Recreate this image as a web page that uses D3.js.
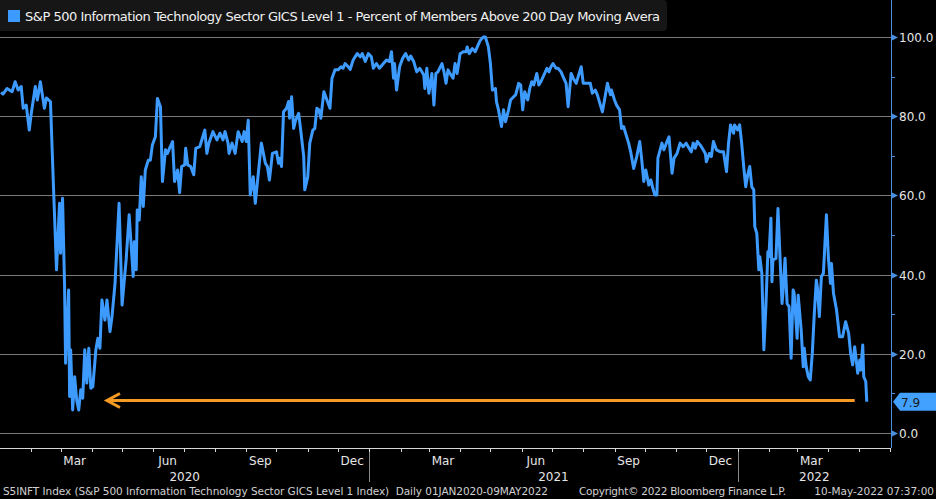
<!DOCTYPE html>
<html><head><meta charset="utf-8">
<script src="https://cdn.jsdelivr.net/npm/d3@7"></script>
<style>html,body{margin:0;padding:0;background:#000;overflow:hidden}svg{display:block}</style>
</head><body>
<svg id="c" width="936" height="499"></svg>
<script>
const titleText = "S&P 500 Information Technology Sector GICS Level 1 - Percent of Members Above 200 Day Moving Avera";
const footerLeft = "S5INFT Index (S&P 500 Information Technology Sector GICS Level 1 Index)  Daily 01JAN2020-09MAY2022";
const footerMid = "Copyright\u00A9 2022 Bloomberg Finance L.P.";
const footerRight = "10-May-2022 07:37:00";
const yTicks = [0, 20, 40, 60, 80, 100];
const yMinorTicks = [10, 30, 50, 70, 90];
const quarterLabels = ["Mar", "Jun", "Sep", "Dec"];
const lastValue = 7.9;
const arrowLevel = 8.2;
const arrowDates = ["2020-04-15", "2022-04-27"];

const dates = [
"2020-01-02","2020-01-04","2020-01-08","2020-01-13","2020-01-16","2020-01-19","2020-01-22","2020-01-24","2020-01-27","2020-01-30",
"2020-02-01","2020-02-05","2020-02-07","2020-02-10","2020-02-14","2020-02-16","2020-02-20","2020-02-23","2020-02-26","2020-02-29",
"2020-03-01","2020-03-03","2020-03-05","2020-03-06","2020-03-09","2020-03-10","2020-03-11","2020-03-13","2020-03-15","2020-03-17",
"2020-03-19","2020-03-21","2020-03-23","2020-03-25","2020-03-27","2020-03-29","2020-03-31","2020-04-02","2020-04-05","2020-04-07",
"2020-04-09","2020-04-11","2020-04-14","2020-04-16","2020-04-19","2020-04-21","2020-04-24","2020-04-28","2020-05-01","2020-05-05",
"2020-05-08","2020-05-12","2020-05-13","2020-05-15","2020-05-16","2020-05-18","2020-05-20","2020-05-22","2020-05-24","2020-05-27",
"2020-05-29","2020-05-31","2020-06-03","2020-06-05","2020-06-08","2020-06-10","2020-06-13","2020-06-15","2020-06-17","2020-06-20",
"2020-06-22","2020-06-25","2020-06-27","2020-06-29","2020-07-02","2020-07-03","2020-07-05","2020-07-08","2020-07-11","2020-07-13",
"2020-07-17","2020-07-19","2020-07-22","2020-07-24","2020-07-26","2020-07-30","2020-08-03","2020-08-06","2020-08-09","2020-08-11",
"2020-08-14","2020-08-15","2020-08-18","2020-08-21","2020-08-24","2020-08-28","2020-08-30","2020-09-01","2020-09-03","2020-09-05",
"2020-09-08","2020-09-10","2020-09-13","2020-09-16","2020-09-20","2020-09-22","2020-09-24","2020-09-27","2020-10-01","2020-10-03",
"2020-10-04","2020-10-06","2020-10-08","2020-10-11","2020-10-13","2020-10-14","2020-10-16","2020-10-18","2020-10-20","2020-10-23",
"2020-10-25","2020-10-28","2020-10-29","2020-11-01","2020-11-03","2020-11-06","2020-11-08","2020-11-10","2020-11-12","2020-11-14",
"2020-11-17","2020-11-20","2020-11-23","2020-11-25","2020-11-28","2020-12-01","2020-12-04","2020-12-06","2020-12-08","2020-12-11",
"2020-12-13","2020-12-16","2020-12-20","2020-12-23","2020-12-25","2020-12-28","2020-12-31","2021-01-03","2021-01-05","2021-01-08",
"2021-01-11","2021-01-15","2021-01-18","2021-01-21","2021-01-23","2021-01-25","2021-01-26","2021-01-28","2021-01-31","2021-02-03",
"2021-02-06","2021-02-09","2021-02-11","2021-02-14","2021-02-17","2021-02-20","2021-02-24","2021-02-25","2021-02-27","2021-03-01",
"2021-03-04","2021-03-06","2021-03-08","2021-03-10","2021-03-14","2021-03-16","2021-03-18","2021-03-20","2021-03-22","2021-03-25",
"2021-03-27","2021-03-29","2021-04-01","2021-04-04","2021-04-07","2021-04-08","2021-04-10","2021-04-13","2021-04-16","2021-04-18",
"2021-04-21","2021-04-24","2021-04-26","2021-04-29","2021-05-01","2021-05-03","2021-05-06","2021-05-07","2021-05-09","2021-05-12",
"2021-05-14","2021-05-16","2021-05-19","2021-05-21","2021-05-24","2021-05-26","2021-05-29","2021-05-31","2021-06-02","2021-06-04",
"2021-06-07","2021-06-09","2021-06-11","2021-06-13","2021-06-16","2021-06-18","2021-06-20","2021-06-23","2021-06-26","2021-06-28",
"2021-06-30","2021-07-02","2021-07-05","2021-07-07","2021-07-10","2021-07-12","2021-07-15","2021-07-17","2021-07-20","2021-07-22",
"2021-07-25","2021-07-27","2021-07-30","2021-08-01","2021-08-04","2021-08-08","2021-08-10","2021-08-13","2021-08-15","2021-08-18",
"2021-08-20","2021-08-23","2021-08-25","2021-08-28","2021-08-29","2021-09-01","2021-09-03","2021-09-06","2021-09-08","2021-09-10",
"2021-09-12","2021-09-15","2021-09-17","2021-09-20","2021-09-23","2021-09-26","2021-09-28","2021-09-30","2021-10-02","2021-10-05",
"2021-10-07","2021-10-09","2021-10-11","2021-10-13","2021-10-14","2021-10-18","2021-10-20","2021-10-23","2021-10-25","2021-10-28",
"2021-10-30","2021-11-02","2021-11-05","2021-11-08","2021-11-11","2021-11-13","2021-11-16","2021-11-18","2021-11-20","2021-11-22",
"2021-11-25","2021-11-27","2021-11-30","2021-12-01","2021-12-04","2021-12-06","2021-12-08","2021-12-11","2021-12-15","2021-12-18",
"2021-12-21","2021-12-23","2021-12-25","2021-12-28","2021-12-29","2022-01-01","2022-01-03","2022-01-05","2022-01-07","2022-01-09",
"2022-01-11","2022-01-13","2022-01-15","2022-01-17","2022-01-18","2022-01-20","2022-01-22","2022-01-23","2022-01-25","2022-01-27",
"2022-01-29","2022-01-31","2022-02-01","2022-02-03","2022-02-04","2022-02-05","2022-02-08","2022-02-10","2022-02-12","2022-02-14",
"2022-02-15","2022-02-17","2022-02-19","2022-02-21","2022-02-23","2022-02-25","2022-02-26","2022-03-01","2022-03-02","2022-03-05",
"2022-03-07","2022-03-08","2022-03-10","2022-03-12","2022-03-14","2022-03-16","2022-03-18","2022-03-20","2022-03-21","2022-03-23",
"2022-03-25","2022-03-27","2022-03-30","2022-04-01","2022-04-03","2022-04-04","2022-04-06","2022-04-09","2022-04-12","2022-04-15",
"2022-04-18","2022-04-21","2022-04-23","2022-04-25","2022-04-27","2022-04-30","2022-05-02","2022-05-03","2022-05-05","2022-05-06",
"2022-05-08","2022-05-09"
];
const values = [
86.0,85.6,87.0,86.2,88.7,86.6,87.5,82.0,82.8,76.5,
80.7,87.5,84.1,88.7,82.0,84.6,83.7,62.2,41.2,58.0,
45.4,59.3,36.9,17.6,36.1,9.2,21.0,5.8,14.2,8.3,
5.8,10.9,8.8,21.0,12.6,21.4,11.3,11.7,21.0,23.9,
21.4,33.6,28.5,33.6,25.6,29.4,37.8,58.0,32.3,43.7,
55.1,39.5,48.3,41.2,56.3,53.8,64.7,57.2,66.4,68.9,
68.9,72.7,74.8,84.5,82.4,63.5,71.5,70.6,71.9,73.6,
63.5,66.4,60.7,67.3,67.7,71.9,67.7,67.3,65.2,71.9,
72.3,74.0,76.5,70.6,73.2,76.1,74.0,75.7,74.0,76.1,
73.2,70.6,73.2,70.6,76.1,73.6,76.1,73.6,79.0,60.1,
64.7,58.0,65.6,73.2,68.1,67.3,63.9,70.6,71.0,68.1,
69.4,67.3,81.1,82.0,83.7,79.5,84.9,76.9,79.0,80.7,
76.5,69.8,61.4,64.7,73.2,76.5,76.9,82.0,81.6,79.5,
86.2,84.1,82.0,89.6,91.7,91.7,92.5,92.1,93.3,92.5,
91.8,94.2,95.8,95.0,95.8,93.8,95.8,95.0,92.1,93.3,
92.1,93.3,94.2,93.8,96.3,89.6,93.3,86.6,92.5,94.6,
95.8,94.2,95.2,93.8,91.2,92.1,90.4,87.0,92.1,85.8,
90.8,82.8,90.8,91.2,93.3,91.2,88.3,91.7,90.8,89.6,
93.3,90.8,95.8,96.3,96.3,97.5,95.8,97.1,96.3,97.5,
99.2,100.0,100.0,97.5,93.3,86.6,87.0,83.7,81.6,77.4,
81.6,78.6,81.6,84.1,84.9,85.4,88.3,87.9,81.6,86.2,
84.1,87.0,88.7,87.9,90.8,87.9,88.7,90.4,92.1,91.2,
92.5,93.3,92.1,92.1,91.2,90.0,88.3,82.4,90.8,89.6,
88.3,90.0,92.5,88.3,88.3,88.3,85.8,86.6,85.4,82.8,
81.1,85.4,88.3,85.4,86.6,84.1,82.8,81.6,76.9,77.4,
75.7,73.2,71.0,66.8,69.8,73.6,68.9,63.5,66.4,62.6,
63.9,61.8,60.1,60.1,69.4,73.2,71.5,73.6,74.8,65.6,
69.4,70.6,73.2,72.3,73.2,72.3,71.0,73.2,71.9,73.6,
72.7,71.9,70.6,68.5,70.6,69.8,73.6,71.5,71.0,71.0,
66.0,73.2,77.8,75.7,77.8,76.5,77.8,73.2,67.3,62.2,
65.2,67.3,62.2,61.4,52.1,50.4,41.2,44.5,40.3,21.0,
31.9,45.8,44.5,54.2,38.2,43.7,44.1,56.7,44.5,32.7,
35.7,44.1,32.7,31.9,18.9,36.1,35.3,23.9,34.8,26.0,
16.7,21.4,16.7,14.2,13.4,20.1,30.2,38.6,36.9,29.4,
39.5,40.3,55.1,44.1,37.8,42.8,35.3,31.1,24.3,24.3,
28.1,25.2,20.1,17.2,21.8,15.1,18.4,15.9,22.2,14.2,
13.0,7.9
];

const parse = d3.timeParse("%Y-%m-%d");
const data = dates.map((d, i) => ({date: parse(d), value: values[i]}));

const W = 936, H = 499;
const plotRight = 891, plotBottom = 448;
const svg = d3.select("#c");
svg.append("rect").attr("width", W).attr("height", H).attr("fill", "#000");

const x = d3.scaleTime().domain([parse("2020-01-01"), parse("2022-06-02")]).range([0, plotRight]);
const y = d3.scaleLinear().domain([0, 100]).range([433, 37]);

const font = "'DejaVu Sans', Tahoma, Verdana, sans-serif";

// grid
svg.append("g").selectAll("line").data(yTicks).join("line")
  .attr("x1", 0).attr("x2", plotRight)
  .attr("y1", d => Math.round(y(d)) + 0.5).attr("y2", d => Math.round(y(d)) + 0.5)
  .attr("stroke", "#7a7a7a").attr("stroke-width", 1);

// orange arrow
const ay = y(arrowLevel);
const ax0 = x(parse(arrowDates[0])), ax1 = x(parse(arrowDates[1]));
svg.append("line").attr("x1", ax0 + 1).attr("x2", ax1).attr("y1", ay).attr("y2", ay)
  .attr("stroke", "#f59a23").attr("stroke-width", 3);
svg.append("path")
  .attr("d", `M${ax0 + 14},${ay - 7} L${ax0 + 1},${ay} L${ax0 + 14},${ay + 7}`)
  .attr("fill", "none").attr("stroke", "#f59a23").attr("stroke-width", 3)
  .attr("stroke-linejoin", "miter");

// series line
const line = d3.line().x(d => x(d.date)).y(d => y(d.value));
svg.append("path").datum(data).attr("d", line)
  .attr("fill", "none").attr("stroke", "#3d9bff").attr("stroke-width", 3)
  .attr("stroke-linejoin", "round");

// right axis
svg.append("line").attr("x1", plotRight + 0.5).attr("x2", plotRight + 0.5).attr("y1", 0).attr("y2", plotBottom)
  .attr("stroke", "#4a8fe0").attr("stroke-width", 1);
svg.append("g").selectAll("path").data(yTicks).join("path")
  .attr("d", d => { const yy = Math.round(y(d)) + 0.5; return `M${plotRight},${yy - 3.5} L${plotRight + 7},${yy} L${plotRight},${yy + 3.5}Z`; })
  .attr("fill", "#4a8fe0");
svg.append("g").selectAll("line").data(yMinorTicks).join("line")
  .attr("x1", plotRight).attr("x2", plotRight + 4)
  .attr("y1", d => Math.round(y(d)) + 0.5).attr("y2", d => Math.round(y(d)) + 0.5)
  .attr("stroke", "#4a8fe0");
svg.append("g").selectAll("text").data(yTicks).join("text")
  .attr("x", plotRight + 8).attr("y", d => y(d) + 5)
  .attr("fill", "#e6e6e6").attr("font-family", font).attr("font-size", 12)
  .text(d => d3.format(".1f")(d));

// last value tag
const ly = y(lastValue);
svg.append("path")
  .attr("d", `M${plotRight + 2},${ly} L${plotRight + 9},${ly - 9} L${W},${ly - 9} L${W},${ly + 9} L${plotRight + 9},${ly + 9}Z`)
  .attr("fill", "#42a0ff");
svg.append("text").attr("x", plotRight + 10).attr("y", ly + 5)
  .attr("fill", "#1a1a1a").attr("font-family", font).attr("font-size", 12).text(d3.format(".1f")(lastValue));

// bottom axis
svg.append("line").attr("x1", 0).attr("x2", plotRight).attr("y1", plotBottom + 0.5).attr("y2", plotBottom + 0.5)
  .attr("stroke", "#d8d8d8");
const months = d3.timeMonth.range(x.domain()[0], x.domain()[1]);
svg.append("g").selectAll("line").data(months.filter(m => x(m) > 2)).join("line")
  .attr("x1", d => Math.round(x(d)) + 0.5).attr("x2", d => Math.round(x(d)) + 0.5)
  .attr("y1", plotBottom).attr("y2", plotBottom + 4).attr("stroke", "#d8d8d8");
const qMonths = months.filter(m => quarterLabels.includes(d3.timeFormat("%b")(m)) && x(d3.timeDay.offset(m, 14)) < plotRight - 15);
svg.append("g").selectAll("text").data(qMonths).join("text")
  .attr("x", d => x(d3.timeDay.offset(d, 14))).attr("y", 465).attr("text-anchor", "middle")
  .attr("fill", "#e6e6e6").attr("font-family", font).attr("font-size", 12)
  .text(d => d3.timeFormat("%b")(d));
// year separators and labels
const years = d3.timeYear.range(x.domain()[0], x.domain()[1]);
svg.append("g").selectAll("line").data(years.filter(yv => x(yv) > 2)).join("line")
  .attr("x1", d => Math.round(x(d)) + 0.5).attr("x2", d => Math.round(x(d)) + 0.5)
  .attr("y1", 452).attr("y2", 482).attr("stroke", "#8a8a8a");
svg.append("g").selectAll("text").data(years).join("text")
  .attr("x", d => { const a = Math.max(0, x(d)); const b = Math.min(plotRight, x(d3.timeYear.offset(d, 1))); return (a + b) / 2; })
  .attr("y", 481).attr("text-anchor", "middle")
  .attr("fill", "#e6e6e6").attr("font-family", font).attr("font-size", 12)
  .text(d => d3.timeFormat("%Y")(d));

// footer
const ft = svg.append("g").attr("font-family", font).attr("font-size", 10.5).attr("fill", "#d0d0d0");
ft.append("text").attr("x", 3).attr("y", 495).attr("textLength", 545).attr("xml:space", "preserve").text(footerLeft);
ft.append("text").attr("x", 579).attr("y", 495).attr("textLength", 207).text(footerMid);
ft.append("text").attr("x", 934).attr("y", 495).attr("text-anchor", "end").text(footerRight);

// title box
svg.append("rect").attr("x", -4).attr("y", 0).attr("width", 671).attr("height", 31).attr("rx", 4)
  .attr("fill", "#161616");
svg.append("rect").attr("x", 8).attr("y", 10).attr("width", 12).attr("height", 12).attr("fill", "#3d9bff");
svg.append("text").attr("x", 25).attr("y", 21).attr("textLength", 635)
  .attr("fill", "#f0f0f0").attr("font-family", font).attr("font-size", 13).text(titleText);
</script>
</body></html>
